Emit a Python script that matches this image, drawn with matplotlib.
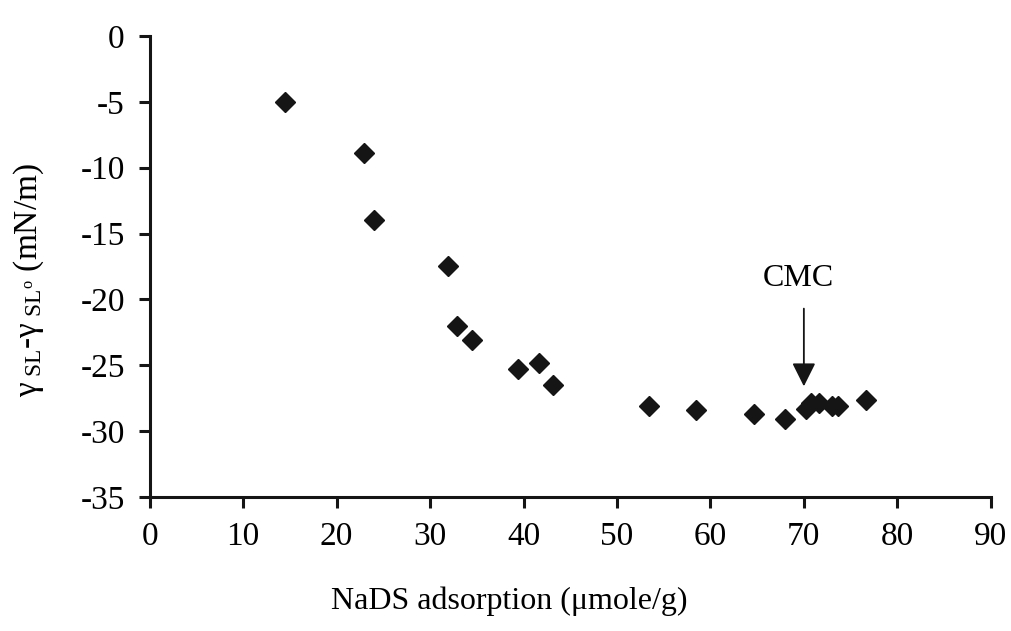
import numpy as np
import matplotlib.pyplot as plt

plt.rcParams['font.family'] = 'Liberation Serif'
plt.rcParams['mathtext.fontset'] = 'custom'
plt.rcParams['mathtext.rm'] = 'Liberation Serif'
plt.rcParams['mathtext.it'] = 'Liberation Serif:italic'
plt.rcParams['axes.unicode_minus'] = False

# NaDS adsorption (umole/g) vs change in solid-liquid tension (mN/m)
adsorption = [14.5, 22.9, 24.0, 31.9, 32.9, 34.5, 39.4, 41.7, 43.2,
              53.4, 58.5, 64.7, 68.0, 70.2, 70.8, 71.6, 73.0, 73.6, 76.6]
d_gamma = [-5.0, -8.9, -14.0, -17.5, -22.0, -23.1, -25.3, -24.8, -26.5,
           -28.1, -28.4, -28.7, -29.1, -28.3, -27.9, -27.9, -28.1, -28.1, -27.6]
cmc_x = 70

fig = plt.figure(figsize=(10.12, 6.31), dpi=100)
ax = fig.add_axes([0.148, 0.2124, 0.831, 0.7306])

ax.plot(adsorption, d_gamma, 'D', color='#151515', markersize=10, linestyle='none')

# CMC marker: label above a plain downward arrow
ax.text(cmc_x - 0.6, -18.4, 'CMC', ha='center', va='center', fontsize=23)
ax.annotate('', xy=(cmc_x, -26.6), xytext=(cmc_x, -20.7),
            arrowprops=dict(arrowstyle='-|>,head_length=0.4,head_width=0.2',
                            color='#151515', lw=1.3, mutation_scale=36,
                            shrinkA=0, shrinkB=0))

ax.set_xlim(0, 90)
ax.set_ylim(-35, 0)
ax.set_xticks(np.arange(0, 91, 10))
ax.set_yticks(np.arange(-35, 1, 5))

for s in ['top', 'right']:
    ax.spines[s].set_visible(False)
for s in ['left', 'bottom']:
    ax.spines[s].set_linewidth(2.2)
    ax.spines[s].set_color('#151515')
ax.tick_params(direction='out', length=8, width=2.2, color='#151515',
               labelsize=24, pad=10)

ax.set_xlabel('NaDS adsorption (\u03bcmole/g)', fontsize=23)
ax.xaxis.set_label_coords(0.428, -0.195)
ax.set_ylabel(r'$\mathrm{\gamma}_{\ \mathrm{SL}}$-$\mathrm{\gamma}_{\ \mathrm{SL^o}}$ (mN/m)',
              fontsize=24)
ax.yaxis.set_label_coords(-0.123, 0.47)

fig.savefig('out.png', dpi=100)
